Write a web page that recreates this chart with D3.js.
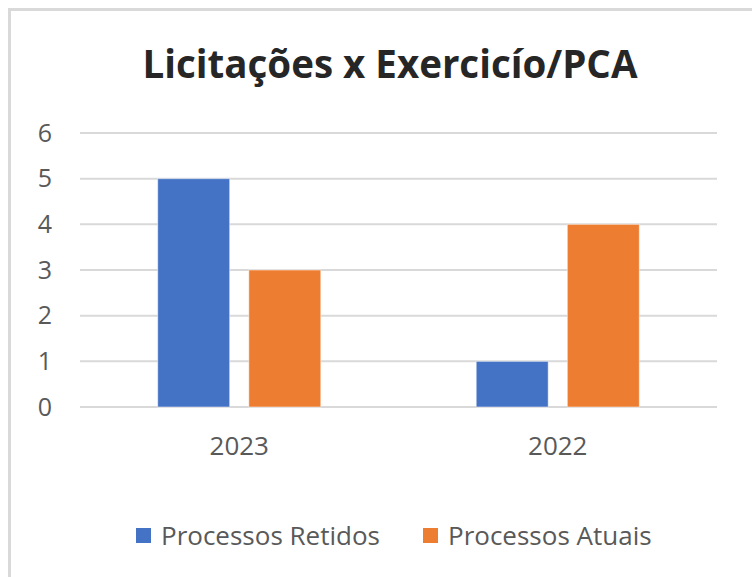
<!DOCTYPE html>
<html>
<head>
<meta charset="utf-8">
<script src="https://cdn.jsdelivr.net/npm/d3@7"></script>
<style>
  body { margin: 0; background: #fff; }
  svg text { font-family: "Open Sans", "Noto Sans", sans-serif; }
</style>
</head>
<body>
<div id="chart"></div>
<script>
var categories = ["2023", "2022"];
var seriesNames = ["Processos Retidos", "Processos Atuais"];
var retidos = [5, 1];
var atuais = [3, 4];
var yTicks = [0, 1, 2, 3, 4, 5, 6];
var colors = ["#4472C4", "#ED7D31"];

var width = 752, height = 577;
var margin = {top: 133, right: 35, bottom: 170, left: 80};

var svg = d3.select("#chart")
            .append("svg")
            .attr("width", width)
            .attr("height", height);

// outer frame (only left and top are visible in the crop)
svg.append("rect")
   .attr("x", 9.5).attr("y", 9.5)
   .attr("width", width + 10).attr("height", height + 10)
   .attr("fill", "#fff")
   .attr("stroke", "#d9d9d9")
   .attr("stroke-width", 3);

svg.append("text")
   .attr("x", 390).attr("y", 78)
   .attr("text-anchor", "middle")
   .style("font-size", "38.5px")
   .style("font-weight", "bold")
   .style("fill", "#262626")
   .text("Licitações x Exercicío/PCA");

var x = d3.scaleBand()
          .domain(categories)
          .range([margin.left, width - margin.right])
          .paddingInner(0.488)
          .paddingOuter(0.244);

var xSub = d3.scaleBand()
             .domain(seriesNames)
             .range([0, x.bandwidth()])
             .paddingInner(0.21);

var y = d3.scaleLinear()
          .domain([0, 6])
          .range([height - margin.bottom, margin.top]);

var g = svg.append("g");

g.selectAll(".grid")
 .data(yTicks)
 .enter().append("line")
 .attr("class", "grid")
 .attr("x1", margin.left).attr("x2", width - margin.right)
 .attr("y1", function(d) { return y(d); })
 .attr("y2", function(d) { return y(d); })
 .attr("stroke", "#d9d9d9")
 .attr("stroke-width", 2);

g.selectAll(".ylab")
 .data(yTicks)
 .enter().append("text")
 .attr("class", "ylab")
 .attr("x", 52)
 .attr("y", function(d) { return y(d); })
 .attr("dy", "0.35em")
 .attr("text-anchor", "end")
 .style("font-size", "25px")
 .style("fill", "#595959")
 .text(function(d) { return d; });

var rows = categories.map(function(c, i) {
     return {cat: c, values: [retidos[i], atuais[i]]};
});

var groups = g.selectAll(".cat")
              .data(rows)
              .enter().append("g")
              .attr("class", "cat")
              .attr("transform", function(d) { return "translate(" + x(d.cat) + ",0)"; });

groups.selectAll("rect")
      .data(function(d) { return d.values.map(function(v, j) { return {name: seriesNames[j], value: v, j: j}; }); })
      .enter().append("rect")
      .attr("x", function(d) { return xSub(d.name); })
      .attr("width", xSub.bandwidth())
      .attr("y", function(d) { return y(d.value); })
      .attr("height", function(d) { return y(0) - y(d.value); })
      .attr("fill", function(d) { return colors[d.j]; })
      .attr("stroke", "rgba(255,255,255,0.5)")
      .attr("stroke-width", 1);

g.selectAll(".xlab")
 .data(categories)
 .enter().append("text")
 .attr("class", "xlab")
 .attr("x", function(d) { return x(d) + x.bandwidth() / 2; })
 .attr("y", 446)
 .attr("dy", "0.35em")
 .attr("text-anchor", "middle")
 .style("font-size", "26px")
 .style("fill", "#595959")
 .text(function(d) { return d; });

// legend
var legendX = [136, 423];
var legend = svg.selectAll(".legend")
                .data(seriesNames)
                .enter().append("g")
                .attr("class", "legend")
                .attr("transform", function(d, i) { return "translate(" + legendX[i] + ",536)"; });

legend.append("rect")
      .attr("x", 0).attr("y", -8)
      .attr("width", 15).attr("height", 15)
      .attr("fill", function(d, i) { return colors[i]; });

legend.append("text")
      .attr("x", 25)
      .attr("y", 0)
      .attr("dy", "0.35em")
      .style("font-size", "26px")
      .style("fill", "#595959")
      .text(function(d) { return d; });
</script>
</body>
</html>
